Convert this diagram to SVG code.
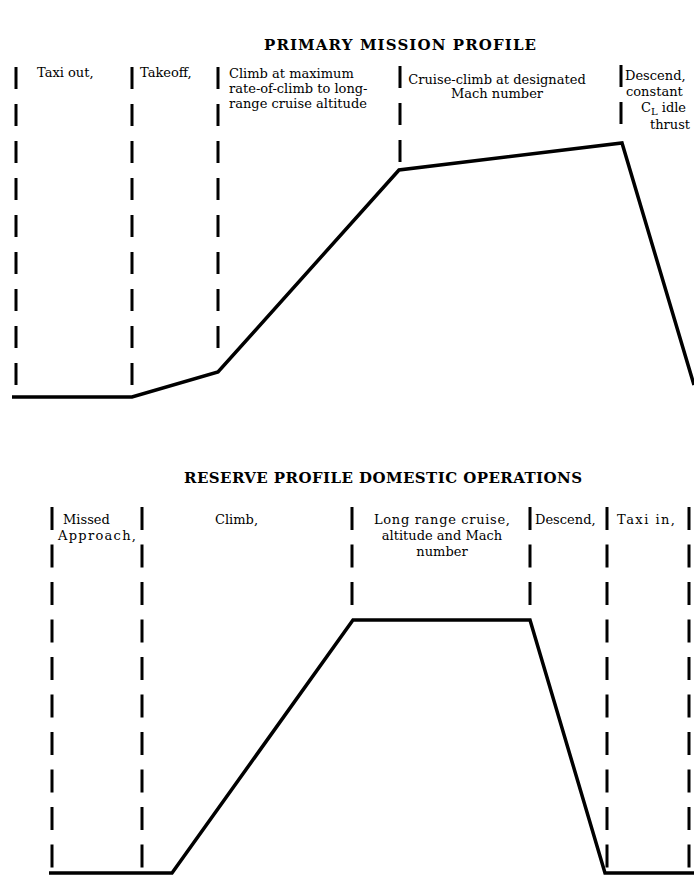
<svg xmlns="http://www.w3.org/2000/svg" width="694" height="877" viewBox="0 0 694 877">
<style>
.t{font-family:"DejaVu Serif","Liberation Serif",serif;font-size:13px;fill:#000}
.h{font-family:"DejaVu Serif","Liberation Serif",serif;font-size:15px;font-weight:bold;fill:#000}
.d1{stroke:#000;stroke-width:3;fill:none;stroke-dasharray:22 15}
.d2{stroke:#000;stroke-width:3;fill:none;stroke-dasharray:23 14.5}
.p{stroke:#000;stroke-width:3.5;fill:none;stroke-linejoin:miter}
</style>
<rect width="694" height="877" fill="#fff"/>
<g id="top-title"><text class="h" x="400" y="50" text-anchor="middle" textLength="272">PRIMARY MISSION PROFILE</text></g>
<g id="top-dividers">
<line class="d1" x1="16" y1="67" x2="16" y2="387"/>
<line class="d1" x1="132" y1="67" x2="132" y2="387"/>
<line class="d1" x1="218" y1="67" x2="218" y2="350"/>
<line class="d1" x1="400" y1="66" x2="400" y2="164"/>
<line class="d1" x1="621" y1="65" x2="621" y2="124"/>
</g>
<g id="top-profile"><polyline class="p" points="12,397 132,397 218,372 399,170 622,143 694,385"/></g>
<g id="taxi-out"><text class="t" x="37" y="77">Taxi out,</text></g>
<g id="takeoff"><text class="t" x="140" y="77">Takeoff,</text></g>
<g id="climb-max"><text class="t" x="229" y="78">Climb at maximum</text><text class="t" x="229" y="93">rate-of-climb to long-</text><text class="t" x="229" y="108">range cruise altitude</text></g>
<g id="cruise-climb"><text class="t" x="497" y="84" text-anchor="middle">Cruise-climb at designated</text><text class="t" x="497" y="98" text-anchor="middle">Mach number</text></g>
<g id="descend-top"><text class="t" x="625" y="80">Descend,</text><text class="t" x="626" y="96">constant</text><text class="t" x="641" y="112">C<tspan font-size="10" dy="3">L</tspan><tspan dy="-3"> idle</tspan></text><text class="t" x="650" y="129">thrust</text></g>
<g id="bottom-title"><text class="h" x="383" y="483" text-anchor="middle" textLength="398">RESERVE PROFILE DOMESTIC OPERATIONS</text></g>
<g id="bottom-dividers">
<line class="d2" x1="52" y1="507" x2="52" y2="868"/>
<line class="d2" x1="142" y1="507" x2="142" y2="868"/>
<line class="d2" x1="352" y1="507" x2="352" y2="605"/>
<line class="d2" x1="530" y1="507" x2="530" y2="605"/>
<line class="d2" x1="607" y1="507" x2="607" y2="868"/>
<line class="d2" x1="689" y1="507" x2="689" y2="868"/>
</g>
<g id="bottom-profile"><polyline class="p" points="49,873 172,873 353,620 530,620 605,873 694,873"/></g>
<g id="missed-approach"><text class="t" x="63" y="524">Missed</text><text class="t" x="58" y="540" textLength="78">Approach,</text></g>
<g id="climb"><text class="t" x="215" y="524">Climb,</text></g>
<g id="long-range-cruise"><text class="t" x="442" y="524" text-anchor="middle" textLength="136">Long range cruise,</text><text class="t" x="442" y="540" text-anchor="middle">altitude and Mach</text><text class="t" x="442" y="556" text-anchor="middle">number</text></g>
<g id="descend"><text class="t" x="535" y="524">Descend,</text></g>
<g id="taxi-in"><text class="t" x="617" y="524" textLength="58">Taxi in,</text></g>
</svg>
